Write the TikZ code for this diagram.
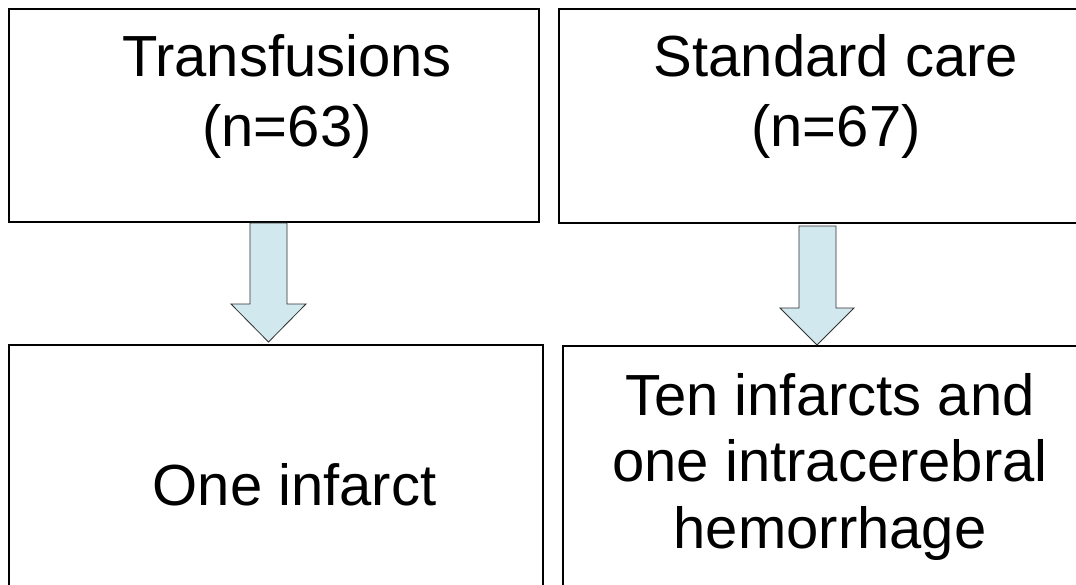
\documentclass[tikz,border=0pt]{standalone}
\usepackage{fontspec}
\setmainfont{Liberation Sans}
\definecolor{arrowfill}{HTML}{D2E8EF}
\definecolor{arrowline}{HTML}{303030}
\tikzset{
  box/.style={draw=black, line width=2pt},
  label/.style={anchor=base, align=center, inner sep=0pt,
    font=\fontsize{58}{70}\selectfont},
  blockarrow/.style={fill=arrowfill, draw=arrowline, line width=0.8pt, line join=miter}
}
\begin{document}
\begin{tikzpicture}[x=1pt, y=-1pt]
  \useasboundingbox (0,0) rectangle (1076,584);
  \clip (0,0) rectangle (1076,584);
  \fill[white] (0,0) rectangle (1076,584);

  % boxes
  \draw[box] (9,9) rectangle (539,222);
  \draw[box] (559,9) rectangle (1090,223);
  \draw[box] (9,345) rectangle (543,600);
  \draw[box] (563,346) rectangle (1090,600);

  % texts (base anchor sits on the last line's baseline)
  \node[label] (t1) at (287,146) {Transfusions\\(n=63)};
  \node[label] (t2) at (836,146) {Standard care\\(n=67)};
  \node[label] (t3) at (294.5,505) {One infarct};
  \node[label, font=\fontsize{58}{66.5}\selectfont] (t4) at (830,548) {Ten infarcts and\\one intracerebral\\hemorrhage};

  % block arrows
  \draw[blockarrow] (250,223) -- (287,223) -- (287,304) -- (306,304)
    -- (268.5,342) -- (231,304) -- (250,304) -- cycle;
  \draw[blockarrow] (799,226) -- (836,226) -- (836,308) -- (854,308)
    -- (817,345) -- (780,308) -- (799,308) -- cycle;
\end{tikzpicture}
\end{document}
